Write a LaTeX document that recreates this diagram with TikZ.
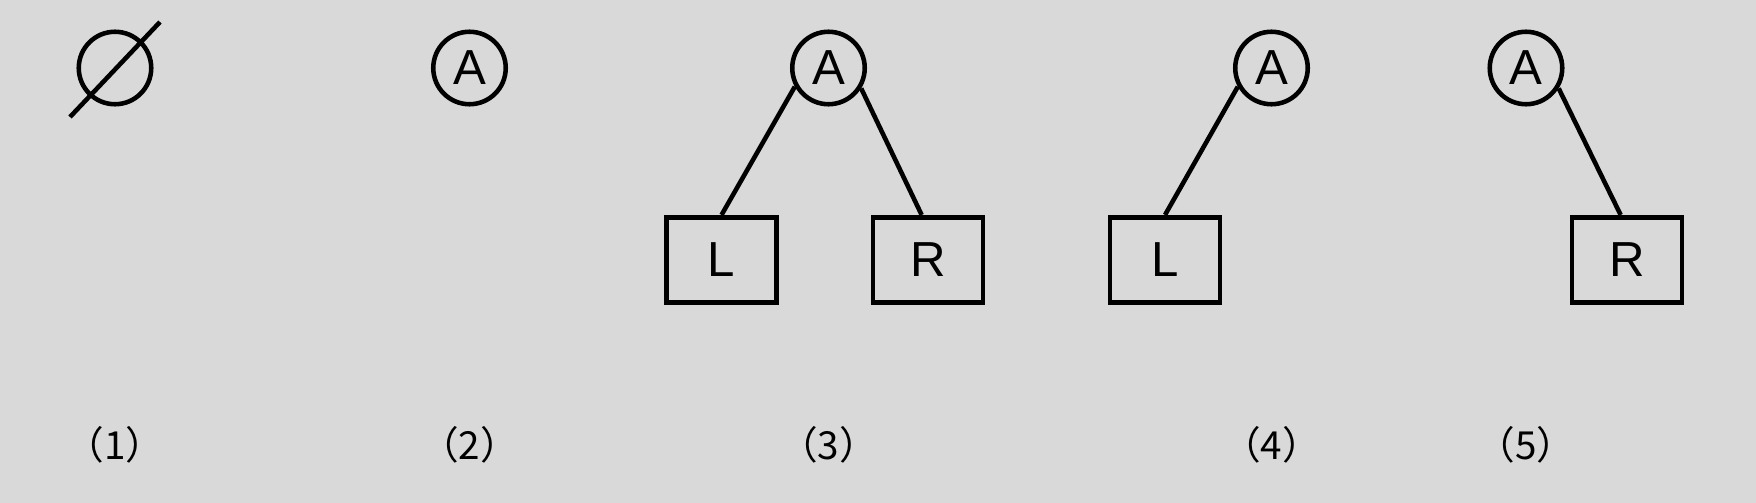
\documentclass[tikz,border=0pt]{standalone}
\usepackage{fontspec}
\setmainfont{Liberation Sans}
\newfontfamily\cjk{Noto Sans CJK SC}
\definecolor{bggray}{HTML}{D9D9D9}

\begin{document}
\begin{tikzpicture}[x=0.02cm,y=-0.02cm,
		level distance=3.84cm,
		level 1/.style={sibling distance=4.12cm},
		vertex/.style={circle,draw,line width=2.6pt,minimum size=1.45cm,inner sep=0pt,font=\fontsize{28}{30}\selectfont},
		leaf/.style={rectangle,draw,line width=2.6pt,minimum width=2.2cm,minimum height=1.71cm,inner sep=0pt,font=\fontsize{28}{30}\selectfont},
		caption/.style={font=\cjk\fontsize{22}{26}\selectfont},
		edge from parent/.style={draw,line width=2.6pt},
		toleft/.style={parent anchor=209,child anchor=north},
		toright/.style={parent anchor=328,child anchor=98}]
		\fill[bggray] (0,0) rectangle (1756,503);
		% empty tree
		\node[circle,draw,line width=2.6pt,minimum size=1.45cm,inner sep=0pt](e) at (115,68){};
		\draw[line width=2.6pt] ([shift={(-45,49)}]e.center) -- ([shift={(45,-46)}]e.center);
		% root only
		\node[vertex](a2) at (469.5,68){A};
		% both subtrees
		\node[vertex](a3) at (828.5,68){A}
		child[toleft,xshift=-0.08cm]{node[leaf](l3){L}}
		child[toright,xshift=-0.07cm]{node[leaf](r3){R}};
		% left subtree only
		\node[vertex](a4) at (1271.5,68){A}
		child[toleft,xshift=-0.07cm]{node[leaf](l4){L}}
		child[missing];
		% right subtree only
		\node[vertex](a5) at (1526,68){A}
		child[missing]
		child[toright,xshift=-0.04cm]{node[leaf](r5){R}};
		\node[caption](c1) at (115,445){（1）};
		\node[caption](c2) at (469.5,445){（2）};
		\node[caption](c3) at (828.5,445){（3）};
		\node[caption](c4) at (1271.5,445){（4）};
		\node[caption](c5) at (1526,445){（5）};
	\end{tikzpicture}
\end{document}
